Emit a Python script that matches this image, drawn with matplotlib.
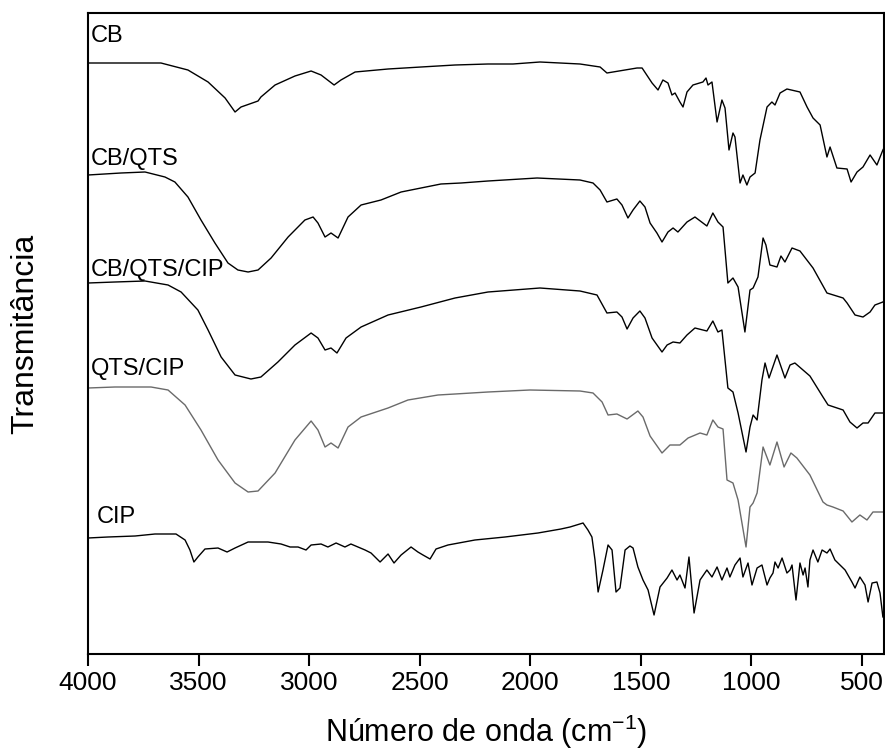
import matplotlib
matplotlib.use("Agg")
import matplotlib.pyplot as plt
import numpy as np

plt.rcParams['font.family'] = ['Liberation Sans', 'DejaVu Sans']
plt.rcParams['mathtext.fontset'] = 'custom'
plt.rcParams['mathtext.rm'] = 'Liberation Sans'
plt.rcParams['mathtext.default'] = 'regular'

# ---- data (wavenumber cm-1, transmittance in arbitrary offset units) ----
cb_wn = [4000, 3670, 3548, 3457, 3380, 3335, 3308, 3231, 3218, 3154, 3064, 2991, 2946, 2887, 2856,
         2792, 2643, 2494, 2340, 2191, 2078, 1956, 1775, 1684, 1653, 1517, 1494, 1449, 1422, 1400,
         1377, 1359, 1345, 1323, 1309, 1291, 1264, 1219, 1205, 1196, 1178, 1155, 1133, 1119, 1101,
         1083, 1074, 1051, 1038, 1020, 1006, 983, 961, 929, 907, 893, 870, 839, 780, 748, 721, 689,
         658, 644, 613, 567, 549, 522, 495, 463, 432, 405, 400]
cb_t = [590, 590, 583, 571, 555, 541, 546, 552, 556, 568, 577, 582, 578, 568, 573,
        581, 584, 586, 588, 589, 589, 591, 589, 586, 580, 585, 585, 570, 563, 573,
        570, 558, 560, 551, 546, 561, 568, 571, 575, 568, 571, 531, 553, 545, 503,
        520, 516, 470, 478, 468, 476, 480, 513, 546, 551, 548, 560, 564, 561, 546, 535, 528,
        496, 506, 485, 484, 471, 481, 486, 498, 488, 503, 505]

cbqts_wn = [4000, 3851, 3742, 3652, 3607, 3548, 3489, 3426, 3367, 3322, 3276, 3231, 3172, 3095, 3019,
            2982, 2960, 2928, 2901, 2869, 2824, 2765, 2675, 2584, 2494, 2404, 2313, 2191, 1969, 1775,
            1716, 1684, 1653, 1608, 1585, 1558, 1535, 1504, 1481, 1458, 1427, 1404, 1377, 1354, 1332,
            1291, 1255, 1201, 1174, 1151, 1128, 1106, 1083, 1060, 1029, 1006, 992, 970, 947, 934, 916,
            884, 866, 848, 816, 780, 721, 658, 585, 567, 531, 495, 463, 441, 405, 400]
cbqts_t = [478, 480, 481, 476, 471, 456, 433, 410, 390, 383, 381, 383, 395, 416, 433,
           436, 430, 416, 420, 415, 436, 448, 453, 461, 465, 469, 470, 472, 475, 473,
           470, 463, 451, 454, 448, 435, 443, 452, 446, 430, 420, 411, 421, 425, 421,
           431, 436, 427, 440, 431, 426, 370, 375, 366, 321, 363, 365, 376, 415, 408, 388,
           386, 397, 391, 405, 402, 385, 360, 355, 350, 338, 336, 341, 348, 351, 352]

cbqtscip_wn = [4000, 3878, 3742, 3638, 3579, 3503, 3457, 3398, 3335, 3263, 3218, 3141, 3064, 2991, 2960,
               2928, 2901, 2874, 2833, 2765, 2643, 2494, 2340, 2191, 1956, 1775, 1698, 1653, 1608, 1585,
               1562, 1535, 1504, 1481, 1449, 1404, 1381, 1354, 1323, 1291, 1255, 1201, 1174, 1151, 1133,
               1106, 1083, 1060, 1024, 1006, 992, 974, 952, 938, 920, 884, 848, 825, 803, 735, 676,
               653, 585, 554, 522, 495, 472, 441, 405, 400]
cbqtscip_t = [370, 371, 372, 368, 361, 343, 323, 296, 278, 274, 276, 291, 308, 320, 315,
              303, 305, 300, 315, 326, 338, 346, 355, 361, 365, 362, 358, 340, 341, 336,
              324, 335, 342, 335, 315, 301, 308, 311, 310, 318, 325, 322, 332, 321, 323,
              265, 261, 240, 201, 226, 238, 233, 273, 290, 275, 298, 275, 288, 290, 277, 256,
              248, 243, 231, 225, 230, 230, 240, 240, 240]

qtscip_wn = [4000, 3878, 3715, 3638, 3561, 3489, 3412, 3335, 3276, 3231, 3154, 3064, 2991, 2960, 2928,
             2901, 2869, 2824, 2765, 2643, 2553, 2417, 2340, 2191, 2001, 1775, 1716, 1675, 1648, 1608,
             1562, 1513, 1490, 1458, 1404, 1368, 1323, 1286, 1232, 1201, 1174, 1151, 1128, 1110, 1083,
             1060, 1024, 1006, 992, 974, 947, 916, 884, 852, 821, 794, 735, 676, 658, 631, 585,
             545, 509, 477, 450, 405, 400]
qtscip_t = [265, 266, 266, 263, 248, 223, 193, 170, 161, 162, 180, 213, 232, 223, 206,
            210, 205, 226, 236, 245, 253, 258, 259, 261, 263, 262, 260, 251, 238, 239,
            234, 242, 236, 217, 200, 208, 208, 215, 220, 218, 233, 226, 224, 173, 170,
            153, 106, 146, 150, 160, 206, 188, 211, 186, 200, 195, 178, 151, 148, 146, 142,
            131, 138, 133, 141, 141, 141]

cip_wn = [4000, 3910, 3787, 3697, 3602, 3561, 3539, 3521, 3503, 3471, 3412, 3371, 3335, 3276, 3186,
          3127, 3086, 3050, 3014, 2991, 2946, 2915, 2878, 2838, 2811, 2779, 2747, 2720, 2679, 2643,
          2616, 2584, 2539, 2508, 2485, 2453, 2426, 2372, 2250, 2114, 1965, 1861, 1820, 1761, 1739,
          1721, 1707, 1693, 1671, 1648, 1630, 1612, 1594, 1571, 1549, 1535, 1513, 1490, 1467, 1440,
          1413, 1381, 1359, 1336, 1323, 1300, 1282, 1259, 1232, 1201, 1178, 1155, 1133, 1110, 1097,
          1074, 1051, 1038, 1015, 997, 974, 952, 929, 916, 902, 893, 879, 861, 839, 825, 816,
          798, 780, 766, 757, 744, 735, 721, 699, 680, 658, 644, 622, 599, 576, 545, 531,
          509, 486, 472, 454, 432, 418, 405, 400]
cip_t = [115, 116, 117, 119, 119, 113, 103, 91, 96, 104, 105, 101, 105, 111, 111,
         109, 106, 106, 103, 108, 109, 106, 110, 106, 109, 106, 103, 100, 91, 99,
         90, 98, 106, 101, 98, 94, 104, 108, 113, 116, 120, 124, 126, 130, 123,
         116, 93, 61, 83, 108, 103, 61, 65, 103, 107, 105, 86, 73, 63, 38,
         66, 75, 83, 73, 78, 65, 96, 40, 73, 83, 76, 86, 73, 85, 76,
         88, 95, 76, 90, 68, 85, 88, 68, 75, 80, 91, 85, 95, 80, 83, 88,
         53, 90, 78, 85, 66, 93, 103, 91, 103, 100, 104, 93, 88, 83, 71, 65,
         76, 68, 51, 70, 71, 60, 36, 35]

labels = ["CB", "CB/QTS", "CB/QTS/CIP", "QTS/CIP", "CIP"]
label_wn = [3988, 3988, 3988, 3988, 3962]
label_t = [611, 488, 377, 278, 130]

series = [(cb_wn, cb_t, "black"), (cbqts_wn, cbqts_t, "black"),
          (cbqtscip_wn, cbqtscip_t, "black"), (qtscip_wn, qtscip_t, "#6a6a6a"),
          (cip_wn, cip_t, "black")]

fig = plt.figure(figsize=(8.85, 7.56), dpi=100)
ax = fig.add_axes([88/885, 102/756, 796/885, 641/756])

for wn, t, c in series:
    ax.plot(wn, t, color=c, lw=1.0)

for lab, x, y in zip(labels, label_wn, label_t):
    ax.text(x, y, lab, fontsize=17, ha='left', va='baseline', color='black')

ax.set_xlim(4000, 400)
ax.set_ylim(-1, 640)
ax.set_xticks([4000, 3500, 3000, 2500, 2000, 1500, 1000, 500])
ax.set_yticks([])
ax.tick_params(axis='x', direction='out', length=8.5, width=1.5, labelsize=19, pad=4)
for s in ax.spines.values():
    s.set_linewidth(1.5)

ax.set_xlabel("Número de onda (cm$^{-1}$)", fontsize=22)
ax.set_ylabel("Transmitância", fontsize=23)
ax.xaxis.set_label_coords(0.5, -0.092)
ax.yaxis.set_label_coords(-0.06, 0.5)

fig.savefig("out.png", dpi=100)
